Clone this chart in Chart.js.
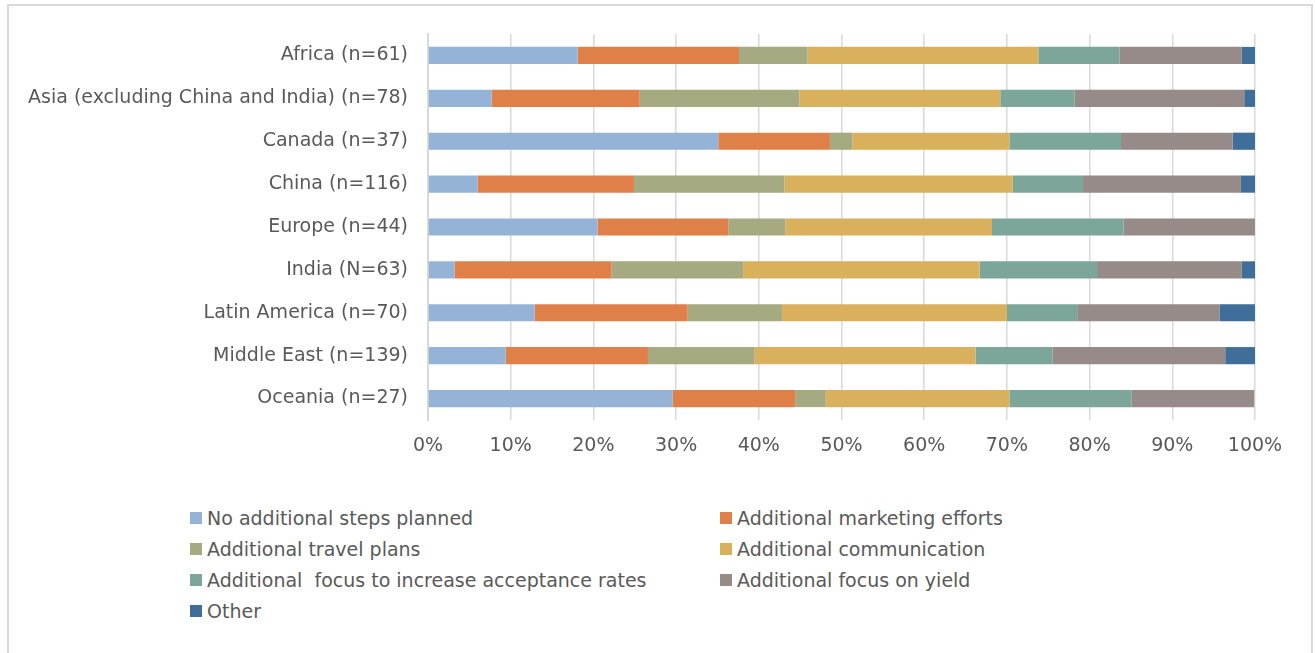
<!DOCTYPE html>
<html>
<head>
<meta charset="utf-8">
<script src="https://cdn.jsdelivr.net/npm/chart.js@4"></script>
<style>
  body { margin: 0; background: #fff; font-family: "DejaVu Sans", sans-serif; }
  #frame { position: absolute; left: 7px; top: 4px; width: 1302px; height: 660px; border: 2px solid #d9d9d9; }
  #wrap { position: absolute; left: 0; top: 0; width: 1315px; height: 480px; }
  #legend { position: absolute; left: 190px; top: 505px; color: #595959; font-size: 19px; }
  .item { position: absolute; white-space: nowrap; display: flex; align-items: center; height: 26px; }
  .box { width: 12px; height: 12px; margin-right: 5px; }
</style>
</head>
<body>
<div id="frame"></div>
<div id="wrap"><canvas id="chart" width="1315" height="480"></canvas></div>
<div id="legend"></div>
<script>
const regions = ["Africa (n=61)", "Asia (excluding China and India) (n=78)", "Canada (n=37)", "China (n=116)",
  "Europe (n=44)", "India (N=63)", "Latin America (n=70)", "Middle East (n=139)", "Oceania (n=27)"];

const seriesNames = ["No additional steps planned", "Additional marketing efforts", "Additional travel plans",
  "Additional communication", "Additional  focus to increase acceptance rates", "Additional focus on yield", "Other"];

const seriesColors = ["#95B3D7", "#DF8049", "#A5AA80", "#D9B15C", "#7CA69A", "#968B89", "#3E6E99"];

// percent per region, in the order of regions
const noSteps     = [18.1, 7.7, 35.1, 6.0, 20.5, 3.2, 12.9, 9.4, 29.6];
const marketing   = [19.5, 17.9, 13.5, 18.9, 15.8, 19.0, 18.5, 17.2, 14.8];
const travel      = [8.3, 19.3, 2.7, 18.2, 6.9, 15.9, 11.4, 12.9, 3.7];
const communicate = [27.9, 24.3, 19.0, 27.6, 25.0, 28.6, 27.2, 26.7, 22.2];
const acceptance  = [9.8, 9.0, 13.5, 8.5, 15.9, 14.2, 8.5, 9.3, 14.8];
const yieldFocus  = [14.8, 20.5, 13.5, 19.1, 15.9, 17.5, 17.2, 20.9, 14.8];
const other       = [1.6, 1.3, 2.7, 1.7, 0, 1.6, 4.3, 3.6, 0];

const seriesValues = [noSteps, marketing, travel, communicate, acceptance, yieldFocus, other];
const xTicks = [0, 10, 20, 30, 40, 50, 60, 70, 80, 90, 100];

const textColor = "#595959";
const fontFamily = "'DejaVu Sans', sans-serif";

const ctx = document.getElementById('chart').getContext('2d');
const chart = new Chart(ctx, {
  type: 'bar',
  data: {
    labels: regions,
    datasets: seriesNames.map((name, i) => ({
      label: name,
      data: seriesValues[i],
      backgroundColor: seriesColors[i],
      borderWidth: 0,
      categoryPercentage: 1,
      barPercentage: 0.4
    }))
  },
  options: {
    indexAxis: 'y',
    responsive: false,
    animation: false,
    layout: { padding: { top: 34, right: 60, left: 0, bottom: 0 } },
    plugins: {
      legend: { display: false },
      tooltip: { enabled: false }
    },
    scales: {
      x: {
        stacked: true,
        min: 0,
        max: 100,
        afterBuildTicks: scale => { scale.ticks = xTicks.map(v => ({ value: v })); },
        afterFit: scale => { scale.height = 60; },
        grid: { color: '#d9d9d9', lineWidth: 1.5, drawTicks: false },
        border: { display: false },
        ticks: {
          padding: 15,
          color: textColor,
          font: { family: fontFamily, size: 19 },
          callback: v => v + '%'
        }
      },
      y: {
        stacked: true,
        afterFit: scale => { scale.width = 428; },
        grid: { display: false, drawTicks: false },
        border: { display: true, color: '#d9d9d9', width: 2 },
        ticks: {
          padding: 20,
          color: textColor,
          font: { family: fontFamily, size: 19 }
        }
      }
    }
  }
});

// legend in two columns, built from the chart's datasets
const legendPos = [[0, 0], [530, 0], [0, 31], [530, 31], [0, 62], [530, 62], [0, 93]];
const legendEl = document.getElementById('legend');
chart.data.datasets.forEach((ds, i) => {
  const item = document.createElement('div');
  item.className = 'item';
  item.style.left = legendPos[i][0] + 'px';
  item.style.top = legendPos[i][1] + 'px';
  item.innerHTML = `<span class="box" style="background:${ds.backgroundColor}"></span>${ds.label.replace(/  /g, ' &nbsp;')}`;
  legendEl.appendChild(item);
});
</script>
</body>
</html>
